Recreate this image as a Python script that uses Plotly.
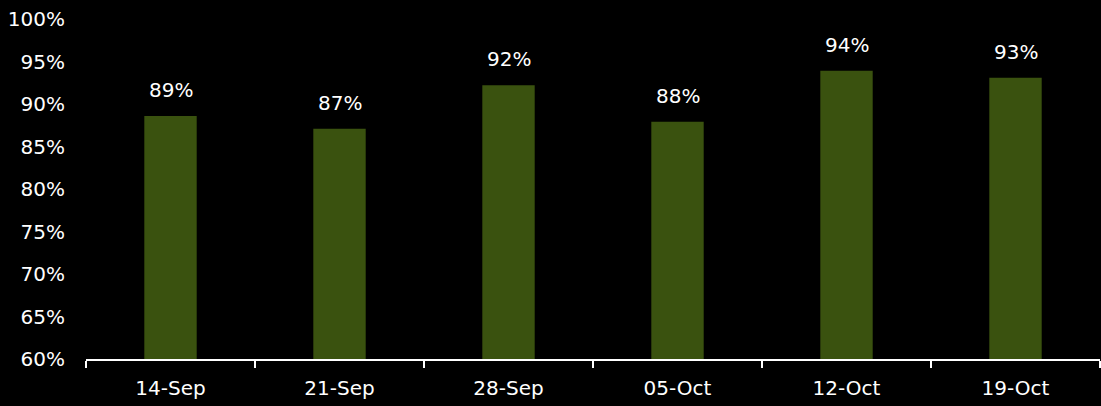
import plotly.graph_objects as go

categories = ["14-Sep", "21-Sep", "28-Sep", "05-Oct", "12-Oct", "19-Oct"]
values = [88.6, 87.1, 92.2, 87.9, 93.9, 93.1]
labels = ["89%", "87%", "92%", "88%", "94%", "93%"]
y_ticks = [60, 65, 70, 75, 80, 85, 90, 95, 100]
y_tick_text = ["60%", "65%", "70%", "75%", "80%", "85%", "90%", "95%", "100%"]

FONT = "DejaVu Sans"
WHITE = "#ffffff"
SIZE = 20

fig = go.Figure()
fig.add_trace(go.Bar(
    x=categories, y=values, width=0.31,
    marker=dict(color="#3a520f", line=dict(width=0)),
    hoverinfo="skip",
))
for c, v, t in zip(categories, values, labels):
    fig.add_annotation(x=c, y=v, text=t, showarrow=False, yanchor="bottom",
                       yshift=12, font=dict(family=FONT, size=SIZE, color=WHITE))

fig.update_layout(
    width=1101, height=406,
    margin=dict(l=86, r=1, t=19, b=47),
    paper_bgcolor="#000000", plot_bgcolor="#000000",
    showlegend=False,
    font=dict(family=FONT, size=SIZE, color=WHITE),
    xaxis=dict(type="category", showline=True, linecolor=WHITE, linewidth=2,
               ticks="outside", tickson="boundaries", ticklen=7, tickwidth=2,
               tickcolor=WHITE, showgrid=False, zeroline=False,
               ticklabelstandoff=10, tickfont=dict(size=SIZE, color=WHITE)),
    yaxis=dict(range=[60, 100], tickmode="array", tickvals=y_ticks,
               ticktext=y_tick_text,
               showgrid=False, zeroline=False, showline=False,
               ticklabelstandoff=20, tickfont=dict(size=SIZE, color=WHITE)),
)
fig.write_html("out.html", config={"displayModeBar": False},
               post_script="document.body.style.margin='0';document.body.style.background='#000';")
